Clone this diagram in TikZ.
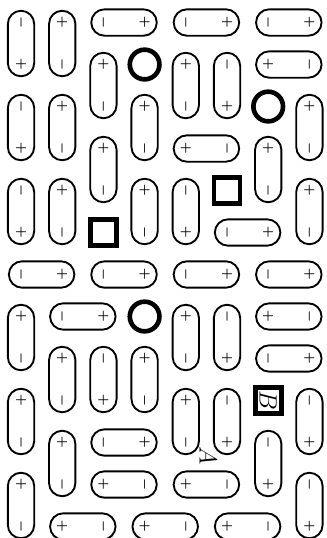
\documentclass[tikz,border=0pt]{standalone}
\usepackage{tikz}

\begin{document}
\begin{tikzpicture}[x=1cm,y=1.0194cm,
    vdom/.style={draw,line width=1.3pt,rounded corners=0.32cm,
                minimum width=0.64cm,minimum height=1.59cm,inner sep=0pt},
    hdom/.style={draw,line width=1.3pt,rounded corners=0.32cm,
                minimum width=1.59cm,minimum height=0.64cm,inner sep=0pt},
    signp/.style={font=\small\boldmath,inner sep=0pt,node contents={$+$}},
    signm/.style={font=\small\boldmath,inner sep=0pt,rotate=-90,
                node contents={$-$}},
    ring/.style={circle,draw,line width=3.2pt,minimum size=0.72cm,inner sep=0pt},
    hole/.style={rectangle,draw,line width=3.2pt,minimum size=0.63cm,inner sep=0pt},
  ]

    % Frame
    \useasboundingbox (-0.01,0.036) rectangle (7.903,-12.774);

    % Vertical dominoes: column/top row/top sign/bottom sign
    \foreach \c/\r/\a/\b [count=\i] in {
        0/0/signm/signp, 1/0/signp/signm, 2/1/signp/signm, 4/1/signp/signm,
        5/1/signm/signp, 0/2/signm/signp, 1/2/signp/signm, 3/2/signp/signm,
        7/2/signp/signm, 2/3/signp/signm, 6/3/signp/signm, 0/4/signm/signp,
        1/4/signp/signm, 3/4/signp/signm, 4/4/signm/signp, 7/4/signp/signm,
        0/7/signp/signm, 4/7/signp/signm, 5/7/signm/signp, 1/8/signp/signm,
        2/8/signm/signp, 3/8/signp/signm, 0/9/signp/signm, 4/9/signp/signm,
        5/9/signm/signp, 7/9/signm/signp, 1/10/signp/signm, 6/10/signm/signp,
        0/11/signp/signm, 7/11/signm/signp} {
      \node[vdom] (v\i) at (\c+0.5,-\r-1) {};
      \node (v\i t) at (\c+0.5,-\r-0.5) [\a];
      \node (v\i b) at (\c+0.5,-\r-1.5) [\b];
    }

    % Horizontal dominoes: left column/row/left sign/right sign
    \foreach \c/\r/\a/\b [count=\i] in {
        2/0/signm/signp, 4/0/signm/signp, 6/0/signm/signp, 6/1/signp/signm,
        4/3/signp/signm, 5/5/signm/signp, 0/6/signm/signp, 2/6/signm/signp,
        4/6/signm/signp, 6/6/signm/signp, 1/7/signm/signp, 6/7/signp/signm,
        6/8/signm/signp, 2/10/signm/signp, 2/11/signp/signm, 4/11/signp/signm,
        1/12/signp/signm, 3/12/signp/signm, 5/12/signp/signm} {
      \node[hdom] (h\i) at (\c+1,-\r-0.5) {};
      \node (h\i l) at (\c+0.5,-\r-0.5) [\a];
      \node (h\i r) at (\c+1.5,-\r-0.5) [\b];
    }

    % Empty sites
    \node[ring] (o1) at (3.5,-1.5) {};
    \node[ring] (o2) at (6.5,-2.5) {};
    \node[ring] (o3) at (3.5,-7.5) {};
    \node[hole] (s1) at (5.5,-4.5) {};
    \node[hole] (s2) at (2.5,-5.5) {};
    \node[hole,font=\LARGE,rotate=-90] (s3) at (6.5,-9.5) {$B$};

    % Label
    \node[font=\LARGE,rotate=-90] (lblA) at (5.04,-10.82) {$A$};

  \end{tikzpicture}
\end{document}
